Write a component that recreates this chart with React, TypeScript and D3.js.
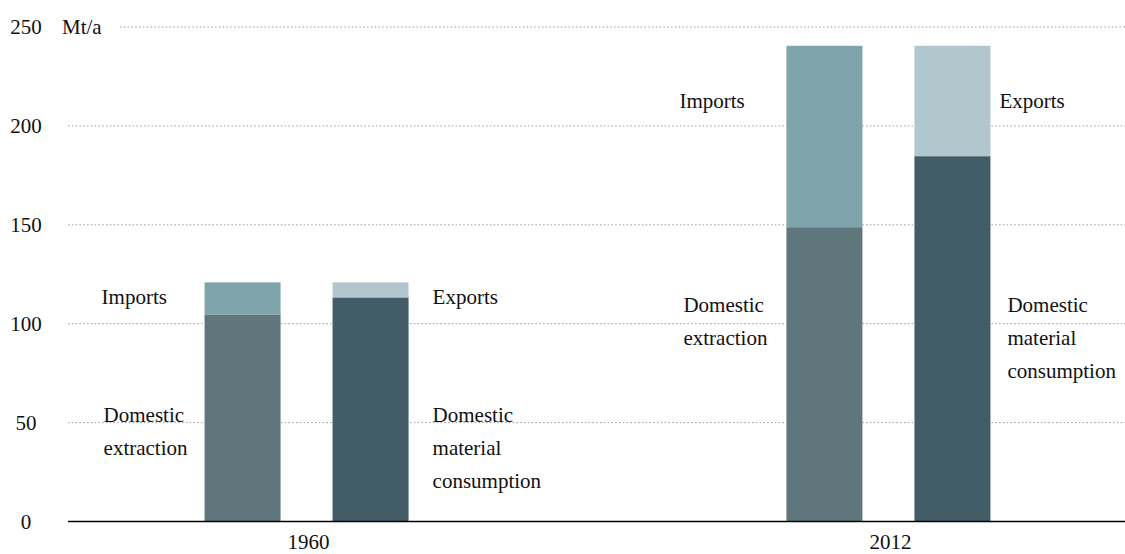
import { useEffect, useRef } from 'react'
import * as d3 from 'd3'

// Values, Mt/a
const years = ['1960', '2012']
const domesticExtraction = [104.7, 148.8]
const imports = [16.2, 91.7]
const domesticConsumption = [113.3, 184.7]
const exportsVals = [7.6, 55.8]
const yTicks = [0, 50, 100, 150, 200, 250]
const unitLabel = 'Mt/a'

const COLOR = {
  extraction: '#5e767c',
  imports: '#7ea4ac',
  consumption: '#425d68',
  exports: '#b2c7cd',
}

// annotation text, anchored in data units (y) and offset from the bars (dx)
const annotations = [
  { year: '1960', side: 'left', dx: -103, v: 110.2, lines: ['Imports'] },
  { year: '1960', side: 'right', dx: 24, v: 110.2, lines: ['Exports'] },
  { year: '1960', side: 'left', dx: -101, v: 50.4, lines: ['Domestic', 'extraction'] },
  { year: '1960', side: 'right', dx: 24, v: 50.4, lines: ['Domestic', 'material', 'consumption'] },
  { year: '2012', side: 'left', dx: -107, v: 209, lines: ['Imports'] },
  { year: '2012', side: 'right', dx: 9, v: 209, lines: ['Exports'] },
  { year: '2012', side: 'left', dx: -103, v: 105.7, lines: ['Domestic', 'extraction'] },
  { year: '2012', side: 'right', dx: 17, v: 105.7, lines: ['Domestic', 'material', 'consumption'] },
]

const W = 1125
const H = 554
const FONT = '"Liberation Serif", "DejaVu Serif", serif'

export default function App() {
  const svgRef = useRef<SVGSVGElement>(null)

  useEffect(() => {
    const el = svgRef.current
    if (!el) return
    const svg = d3.select(el)
    svg.selectAll('*').remove()

    const left = 68
    const right = W + 2
    const y = d3.scaleLinear().domain([0, 250]).range([521.5, 27])

    const x = d3.scalePoint<string>().domain(years).range([left, right]).padding(0.41)
    const inner = d3
      .scaleBand<string>()
      .domain(['in', 'out'])
      .range([-102, 102])
      .paddingInner(0.40625)

    // gridlines
    svg
      .append('g')
      .selectAll('line')
      .data(yTicks.filter((t) => t > 0))
      .join('line')
      .attr('x1', (d) => (d === 250 ? 120 : 68))
      .attr('x2', W)
      .attr('y1', (d) => y(d))
      .attr('y2', (d) => y(d))
      .attr('stroke', '#a0a0a0')
      .attr('stroke-width', 1)
      .attr('stroke-dasharray', '1.6 2.2')

    // tick labels
    svg
      .append('g')
      .selectAll('text')
      .data(yTicks)
      .join('text')
      .attr('x', 26)
      .attr('y', (d) => y(d))
      .attr('dy', '0.35em')
      .attr('text-anchor', 'middle')
      .attr('font-family', FONT)
      .attr('font-size', 21)
      .attr('fill', '#111')
      .text((d) => d)

    svg
      .append('text')
      .attr('x', 62)
      .attr('y', y(250))
      .attr('dy', '0.35em')
      .attr('font-family', FONT)
      .attr('font-size', 21)
      .attr('fill', '#111')
      .text(unitLabel)

    // stacked bars
    const bars = svg.append('g')
    years.forEach((yr, i) => {
      const cx = x(yr) as number
      const inX = cx + (inner('in') as number)
      const outX = cx + (inner('out') as number)
      const bw = inner.bandwidth()
      const stacks = [
        { x0: inX, lo: 0, hi: domesticExtraction[i], c: COLOR.extraction },
        { x0: inX, lo: domesticExtraction[i], hi: domesticExtraction[i] + imports[i], c: COLOR.imports },
        { x0: outX, lo: 0, hi: domesticConsumption[i], c: COLOR.consumption },
        { x0: outX, lo: domesticConsumption[i], hi: domesticConsumption[i] + exportsVals[i], c: COLOR.exports },
      ]
      stacks.forEach((s) => {
        bars
          .append('rect')
          .attr('x', s.x0)
          .attr('y', y(s.hi))
          .attr('width', bw)
          .attr('height', y(s.lo) - y(s.hi))
          .attr('fill', s.c)
      })

      svg
        .append('text')
        .attr('x', cx + 2)
        .attr('y', 549)
        .attr('text-anchor', 'middle')
        .attr('font-family', FONT)
        .attr('font-size', 21)
        .attr('fill', '#111')
        .text(yr)
    })

    // baseline
    svg
      .append('line')
      .attr('x1', 68)
      .attr('x2', W)
      .attr('y1', y(0))
      .attr('y2', y(0))
      .attr('stroke', '#000')
      .attr('stroke-width', 1.5)

    // annotations
    annotations.forEach((a) => {
      const cx = x(a.year) as number
      const base =
        a.side === 'left'
          ? cx + (inner('in') as number) + a.dx
          : cx + (inner('out') as number) + inner.bandwidth() + a.dx
      const t = svg
        .append('text')
        .attr('x', base)
        .attr('y', y(a.v))
        .attr('font-family', FONT)
        .attr('font-size', 21)
        .attr('fill', '#111')
      a.lines.forEach((ln, k) => {
        t.append('tspan')
          .attr('x', base)
          .attr('dy', k === 0 ? 0 : 33)
          .text(ln)
      })
    })
  }, [])

  return (
    <svg
      ref={svgRef}
      width={W}
      height={H}
      style={{ position: 'absolute', left: 0, top: 0, display: 'block', background: '#fff' }}
    />
  )
}
